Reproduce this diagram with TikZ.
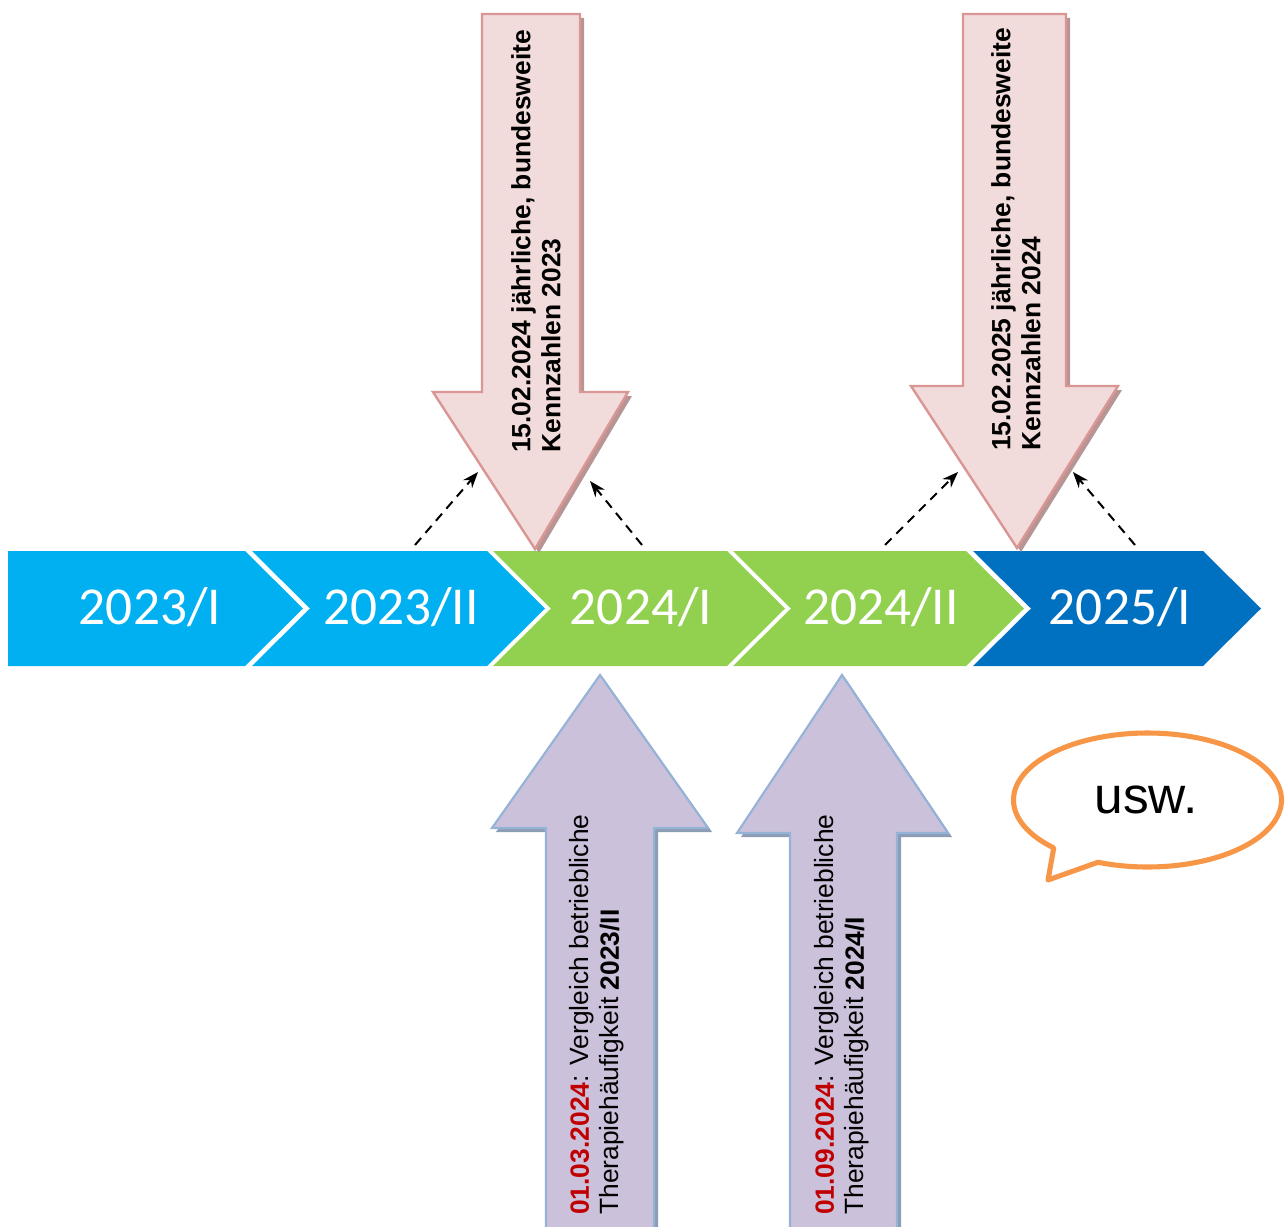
\documentclass[tikz,border=0pt]{standalone}
\usepackage{fontspec}
\setmainfont{Liberation Sans}
\newfontfamily\calib{Carlito}
\usetikzlibrary{arrows.meta}
\definecolor{cyanA}{HTML}{00B0F0}
\definecolor{greenA}{HTML}{92D050}
\definecolor{blueA}{HTML}{0070C0}
\definecolor{pinkF}{HTML}{F2DCDB}
\definecolor{pinkD}{HTML}{D99694}
\definecolor{pinkS}{HTML}{B89595}
\definecolor{lilaF}{HTML}{CCC1DA}
\definecolor{lilaD}{HTML}{95B3D7}
\definecolor{lilaS}{HTML}{8C9DB5}
\definecolor{orangeA}{HTML}{F79646}
\definecolor{redA}{HTML}{C00000}
\tikzset{
  yearlbl/.style={text=white, inner sep=0pt, font=\calib\fontsize{40}{44}\selectfont},
  pinkarrow/.style={fill=pinkF, draw=pinkD, line width=1.8pt, line join=miter},
  pinkshadow/.style={fill=pinkS},
  lilaarrow/.style={fill=lilaF, draw=lilaD, line width=1.6pt, line join=miter},
  lilashadow/.style={fill=lilaS},
  ptext/.style={rotate=90, align=left, inner sep=0pt, font=\fontsize{19.8}{22.5}\selectfont\bfseries},
  vtext/.style={rotate=90, align=left, inner sep=0pt, font=\fontsize{19.8}{22.5}\selectfont},
  dasharrow/.style={line width=1.5pt, dash pattern=on 7pt off 5pt, -{Stealth[length=12pt,width=9pt]}},
  bubble/.style={draw=orangeA, line width=3.8pt, fill=white, line join=round}
}
\begin{document}
\begin{tikzpicture}[x=0.75pt, y=-0.75pt]
\useasboundingbox (0,0) rectangle (1285,1227);
\clip (0,0) rectangle (1285,1227);
\fill[white] (0,0) rectangle (1285,1227);

% chevrons
\fill[cyanA] (8,551) -- (245,551) -- (303,608.5) -- (245,666) -- (8,666) -- cycle;
\fill[cyanA] (252,551) -- (487,551) -- (545,608.5) -- (487,666) -- (252,666) -- (310,608.5) -- cycle;
\fill[greenA] (493,551) -- (727,551) -- (785,608.5) -- (727,666) -- (493,666) -- (551,608.5) -- cycle;
\fill[greenA] (733,551) -- (966,551) -- (1024,608.5) -- (966,666) -- (733,666) -- (791,608.5) -- cycle;
\fill[blueA] (973,551) -- (1203,551) -- (1261,608.5) -- (1203,666) -- (973,666) -- (1031,608.5) -- cycle;

\node[yearlbl] (y1) at (150,607) {2023/I};
\node[yearlbl] (y2) at (401,607) {2023/II};
\node[yearlbl] (y3) at (641,607) {2024/I};
\node[yearlbl] (y4) at (881,607) {2024/II};
\node[yearlbl] (y5) at (1120,607) {2025/I};

% dashed arrows
\coordinate (d1s) at (415,545); \coordinate (d1e) at (478,472);
\coordinate (d2s) at (642,545); \coordinate (d2e) at (590,481);
\coordinate (d3s) at (885,545); \coordinate (d3e) at (958,472);
\coordinate (d4s) at (1135,545); \coordinate (d4e) at (1073,472);
\draw[dasharrow] (d1s) -- (d1e);
\draw[dasharrow] (d2s) -- (d2e);
\draw[dasharrow] (d3s) -- (d3e);
\draw[dasharrow] (d4s) -- (d4e);

% pink arrows
\fill[pinkshadow, shift={(4,4)}] (482,14) -- (580,14) -- (580,392) -- (628,392) -- (535,549) -- (433,392) -- (482,392) -- cycle;
\draw[pinkarrow] (482,14) -- (580,14) -- (580,392) -- (628,392) -- (535,549) -- (433,392) -- (482,392) -- cycle;
\fill[pinkshadow, shift={(4,4)}] (963,14) -- (1066,14) -- (1066,386) -- (1118,386) -- (1017,548) -- (911,386) -- (963,386) -- cycle;
\draw[pinkarrow] (963,14) -- (1066,14) -- (1066,386) -- (1118,386) -- (1017,548) -- (911,386) -- (963,386) -- cycle;

\node[ptext, anchor=west] (t1) at (536,453) {15.02.2024 jährliche, bundesweite\\Kennzahlen 2023};
\node[ptext, anchor=west] (t2) at (1016,451) {15.02.2025 jährliche, bundesweite\\Kennzahlen 2024};

% purple arrows
\fill[lilashadow, shift={(4,4)}] (600,675) -- (708,828) -- (654,828) -- (654,1240) -- (546,1240) -- (546,828) -- (492,828) -- cycle;
\draw[lilaarrow] (600,675) -- (708,828) -- (654,828) -- (654,1240) -- (546,1240) -- (546,828) -- (492,828) -- cycle;
\fill[lilashadow, shift={(4,4)}] (842,675) -- (948,833) -- (897,833) -- (897,1240) -- (790,1240) -- (790,833) -- (737,833) -- cycle;
\draw[lilaarrow] (842,675) -- (948,833) -- (897,833) -- (897,1240) -- (790,1240) -- (790,833) -- (737,833) -- cycle;

\node[vtext, anchor=west] (t3) at (597,1215) {\textbf{\color{redA}01.03.2024}: Vergleich betriebliche\\Therapiehäufigkeit \textbf{2023/II}};
\node[vtext, anchor=west] (t4) at (842,1215) {\textbf{\color{redA}01.09.2024}: Vergleich betriebliche\\Therapiehäufigkeit \textbf{2024/I}};

% speech bubble
\draw[bubble] plot[domain=111.7:-225.6, samples=120, smooth] ({1147.5+134*cos(\x)},{800+67*sin(\x)}) -- (1048,880) -- cycle;
\node[font=\fontsize{38.6}{42}\selectfont, inner sep=0pt] (usw) at (1146,800) {usw.};
\end{tikzpicture}
\end{document}
